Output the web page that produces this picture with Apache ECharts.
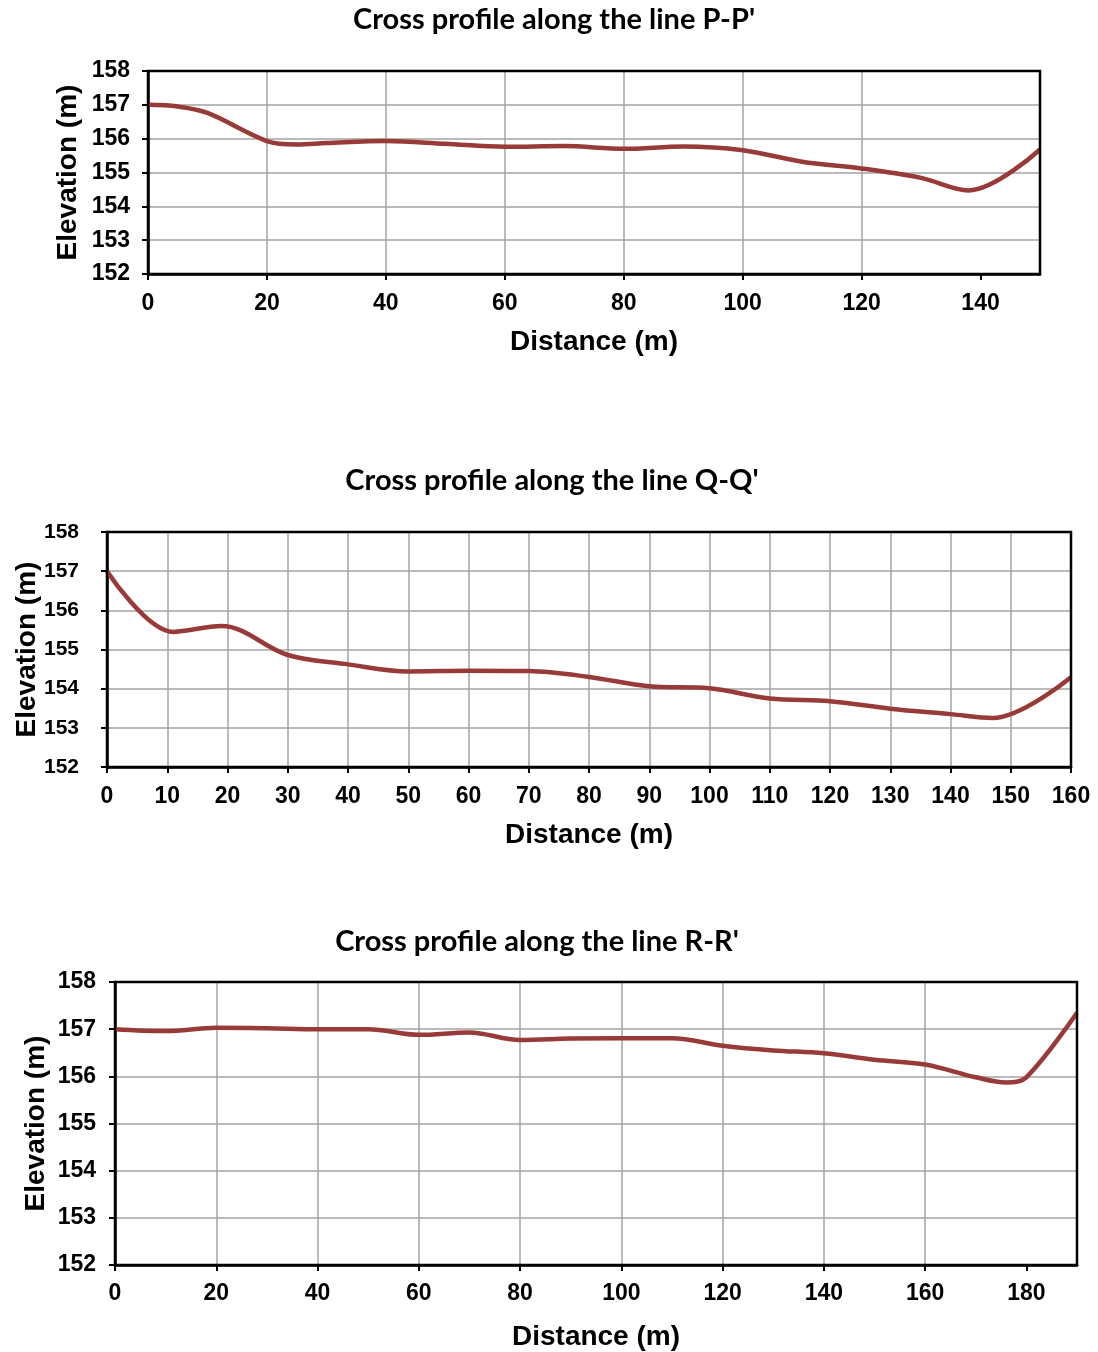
<!DOCTYPE html>
<html>
<head>
<meta charset="utf-8">
<script src="https://cdn.jsdelivr.net/npm/echarts@6/dist/echarts.min.js"></script>
<style>
  html, body { margin: 0; padding: 0; background: #fff; }
  #chart { width: 1098px; height: 1352px; }
</style>
</head>
<body>
<div id="chart"></div>
<script>
// Profile P-P'
const distP = [0, 5, 10, 20, 25, 30, 40, 50, 60, 70, 80, 90, 100, 110, 120, 130, 138, 150];
const elevP = [157.0, 156.95, 156.76, 155.93, 155.83, 155.87, 155.93, 155.85, 155.76, 155.78, 155.70, 155.77, 155.66, 155.32, 155.12, 154.84, 154.47, 155.68];

// Profile Q-Q'
const distQ = [0, 11, 19, 30, 40, 50, 60, 70, 80, 90, 100, 110, 120, 130, 140, 147, 160];
const elevQ = [157.0, 155.45, 155.6, 154.86, 154.62, 154.44, 154.46, 154.45, 154.30, 154.06, 154.01, 153.75, 153.68, 153.49, 153.35, 153.25, 154.29];

// Profile R-R'
const distR = [0, 10, 20, 30, 40, 50, 60, 70, 80, 90, 100, 110, 120, 130, 140, 150, 160, 170, 176, 180, 190];
const elevR = [157.0, 156.96, 157.03, 157.02, 157.0, 157.0, 156.88, 156.93, 156.77, 156.8, 156.81, 156.81, 156.65, 156.55, 156.49, 156.35, 156.25, 155.98, 155.87, 155.98, 157.35];

// Tick labels
const ticksP = [0, 20, 40, 60, 80, 100, 120, 140];
const ticksQ = [0, 10, 20, 30, 40, 50, 60, 70, 80, 90, 100, 110, 120, 130, 140, 150, 160];
const ticksR = [0, 20, 40, 60, 80, 100, 120, 140, 160, 180];
const elevTicks = [152, 153, 154, 155, 156, 157, 158];

const titles = ["Cross profile along the line P-P'", "Cross profile along the line Q-Q'", "Cross profile along the line R-R'"];

const FONT = "'Liberation Sans', Arial, sans-serif";
const LINE_COLOR = '#983a37';
const GRID_COLOR = '#a3a3a3';

const panels = [
  { grid: { left: 148, right: 58, top: 71, height: 203 }, xMax: 150, xInt: 20, xTicks: ticksP,
    dist: distP, elev: elevP, xLabelMargin: 18, xNameGap: 54, yLabelMargin: 18, yLabelSize: 23, yNameGap: 66,
    title: titles[0], titleX: 554, titleY: 20 },
  { grid: { left: 107, right: 27, top: 532, height: 235 }, xMax: 160, xInt: 10, xTicks: ticksQ,
    dist: distQ, elev: elevQ, xLabelMargin: 18, xNameGap: 54, yLabelMargin: 28, yLabelSize: 21, yNameGap: 66,
    title: titles[1], titleX: 552, titleY: 481 },
  { grid: { left: 115, right: 21, top: 982, height: 283 }, xMax: 190, xInt: 20, xTicks: ticksR,
    dist: distR, elev: elevR, xLabelMargin: 17, xNameGap: 58, yLabelMargin: 19, yLabelSize: 23, yNameGap: 65,
    title: titles[2], titleX: 537, titleY: 942 }
];

const option = {
  animation: false,
  backgroundColor: '#fff',
  grid: [], xAxis: [], yAxis: [], series: [], graphic: []
};

panels.forEach((p, i) => {
  option.grid.push(Object.assign({
    show: true, borderColor: '#000', borderWidth: 2.5, backgroundColor: 'transparent', z: 5,
    containLabel: false, outerBoundsMode: 'none'
  }, p.grid));
  option.xAxis.push({
    type: 'value', gridIndex: i, min: 0, max: p.xMax, interval: p.xInt,
    name: 'Distance (m)', nameLocation: 'middle', nameGap: p.xNameGap, nameMoveOverlap: false,
    nameTextStyle: { fontFamily: FONT, fontWeight: 'bold', fontSize: 28, color: '#000' },
    axisLine: { show: true, lineStyle: { color: '#000', width: 2.5 } },
    axisTick: { show: true, inside: false, length: 6, lineStyle: { color: '#000', width: 2 }, customValues: p.xTicks },
    axisLabel: { fontFamily: FONT, fontWeight: 'bold', fontSize: 23, color: '#000', margin: p.xLabelMargin, customValues: p.xTicks },
    splitLine: { show: true, showMinLine: false, showMaxLine: false, lineStyle: { color: GRID_COLOR, width: 1.5 } }
  });
  option.yAxis.push({
    type: 'value', gridIndex: i, min: 152, max: 158, interval: 1,
    name: 'Elevation (m)', nameLocation: 'middle', nameGap: p.yNameGap, nameRotate: 90, nameMoveOverlap: false,
    nameTextStyle: { fontFamily: FONT, fontWeight: 'bold', fontSize: 28, color: '#000' },
    axisLine: { show: true, lineStyle: { color: '#000', width: 2.5 } },
    axisTick: { show: true, inside: false, length: 6, lineStyle: { color: '#000', width: 2 } },
    axisLabel: { fontFamily: FONT, fontWeight: 'bold', fontSize: p.yLabelSize, color: '#000', margin: p.yLabelMargin,
      customValues: elevTicks },
    splitLine: { show: true, showMinLine: false, showMaxLine: false, lineStyle: { color: GRID_COLOR, width: 1.5 } }
  });
  option.series.push({
    type: 'line', xAxisIndex: i, yAxisIndex: i,
    data: p.dist.map((d, k) => [d, p.elev[k]]),
    smooth: 0.35, showSymbol: false, symbol: 'none',
    lineStyle: { color: LINE_COLOR, width: 4.5 }, z: 3
  });
  option.graphic.push({
    type: 'text',
    x: p.titleX, y: p.titleY,
    style: { text: p.title, fill: '#000', font: "bold 29px Lato, 'Open Sans', sans-serif",
      align: 'center', verticalAlign: 'middle' }
  });
});

const chart = echarts.init(document.getElementById('chart'), null, { renderer: 'canvas' });
chart.setOption(option);
</script>
</body>
</html>
